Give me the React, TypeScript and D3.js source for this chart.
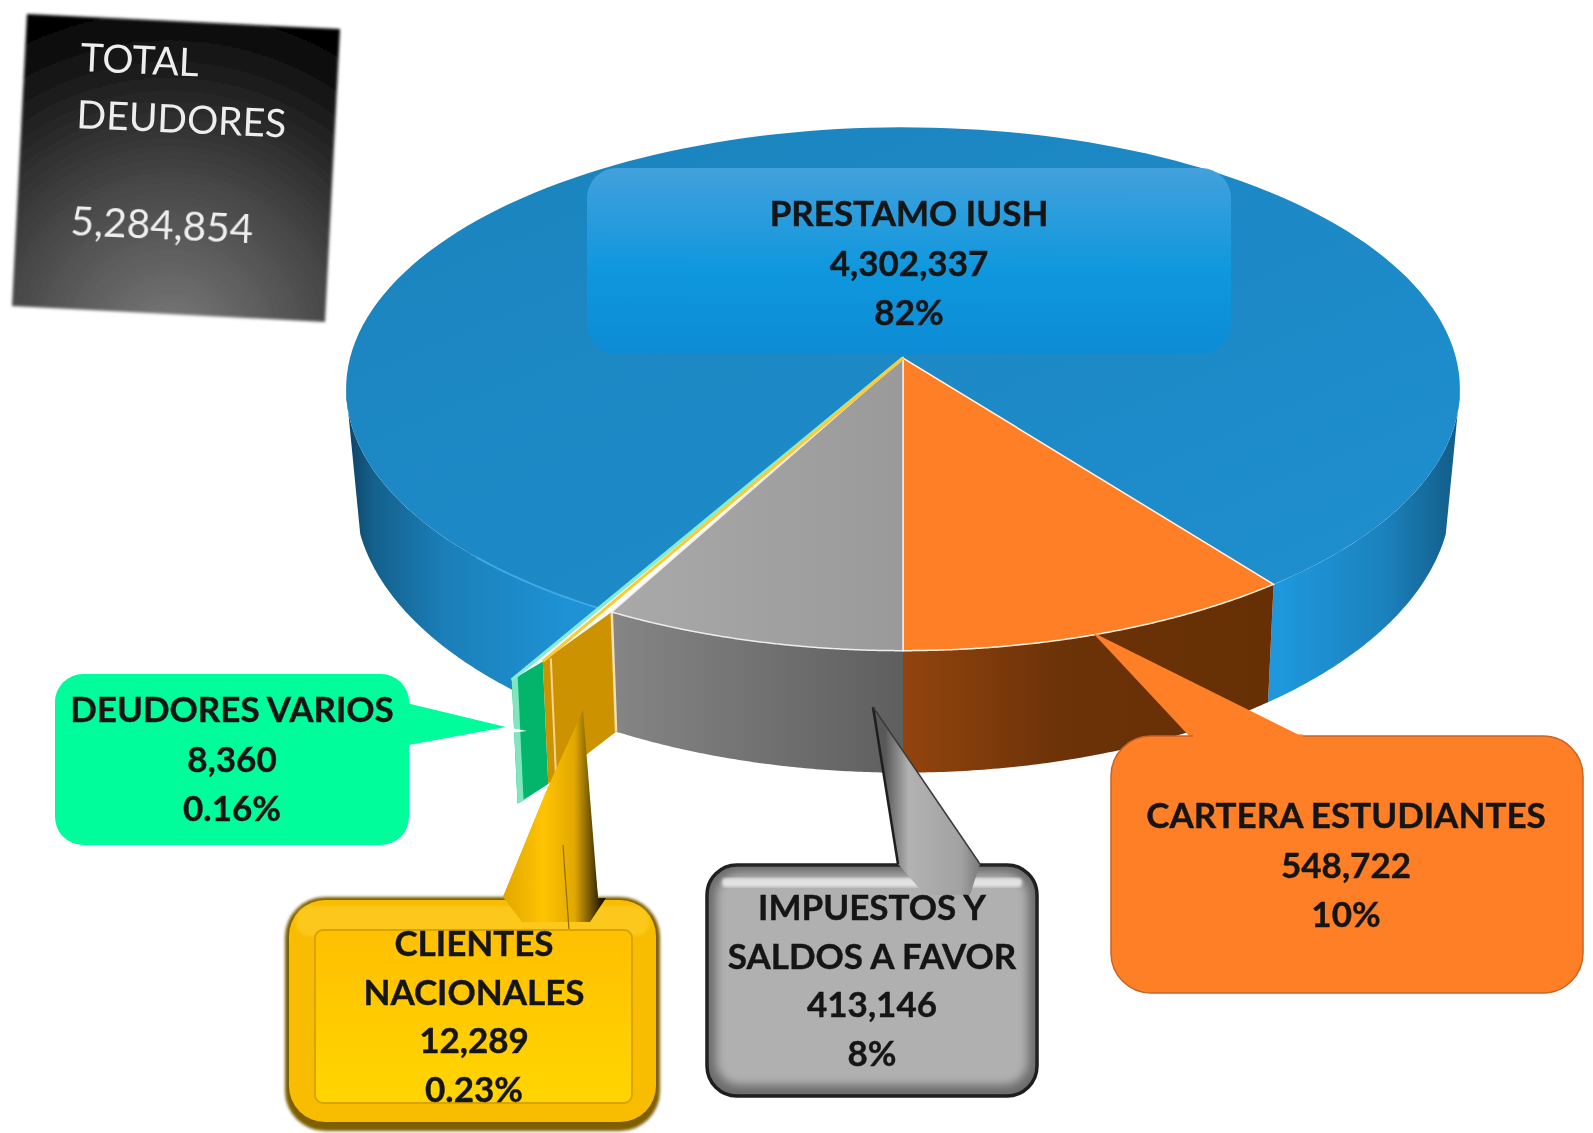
import React from "react";
import * as d3 from "d3";

const categories = ["CARTERA ESTUDIANTES", "PRESTAMO IUSH", "DEUDORES VARIOS", "CLIENTES NACIONALES", "IMPUESTOS Y SALDOS A FAVOR"];
const values = [548722, 4302337, 8360, 12289, 413146];
const percents = ["10%", "82%", "0.16%", "0.23%", "8%"];
const totalValue = 5284854;

const W = 1593, H = 1133;
const cx = 903, apexY = 358, A = 553, B = 258, K = 0.1184;
const FONT = "Lato, Carlito, 'Open Sans', sans-serif";

type Pt = [number, number];
const project = (a: number, r = 1): Pt => {
  const u = r * Math.sin(a), v = r * Math.cos(a), d = 1 - K * v;
  return [cx + (A * u) / d, apexY + (B * v) / d];
};
const lower = (a: number, r = 1): Pt => {
  const p = project(a, r);
  return [cx + (p[0] - cx) * 0.985, p[1] + 102 + 20 * r * Math.cos(a)];
};
const deg = (x: number) => (x * Math.PI) / 180;
const sweep = (a0: number, a1: number, n = 80) => d3.range(n + 1).map((i) => a0 + ((a1 - a0) * i) / n);
const line = d3.line<Pt>().x((d) => d[0]).y((d) => d[1]);
const poly = (pts: Pt[]) => line(pts) + "Z";

const slices = d3.pie<number>().value((d) => d).sort(null).startAngle(0).endAngle(2 * Math.PI)(values);
const [sOrange, sBlue, sGreen, sYellow, sGray] = slices;

const face = (a0: number, a1: number) => poly([[cx, apexY], ...sweep(a0, a1, 160).map((a) => project(a))]);
const wall = (a0: number, a1: number) => {
  const ang = sweep(a0, a1);
  return poly([...ang.map((a) => project(a)), ...ang.slice().reverse().map((a) => lower(a))]);
};
const R_GREEN = 1.25, R_YELLOW = 1.18;

const blueRightWall = () => {
  const top = sweep(sBlue.startAngle, deg(83)).map((a) => project(a));
  const bot = sweep(sBlue.startAngle, deg(75)).map((a) => lower(a));
  return poly([...top, ...bot.reverse()]);
};
const blueLeftWall = () => {
  const top = sweep(deg(277), sBlue.endAngle).map((a) => project(a));
  const bot = sweep(deg(285), deg(320)).map((a) => lower(a));
  return poly([...top, project(sBlue.endAngle, R_GREEN), ...bot.reverse()]);
};
const gP = project(sGreen.startAngle, R_GREEN);
const gQ = project(sGreen.endAngle, R_YELLOW);
const yR = project(sYellow.endAngle, 1);
const gPb = lower(sGreen.startAngle, R_GREEN);
const gQb = lower(sGreen.endAngle, R_YELLOW);
const yRb = lower(sYellow.endAngle, 1);
const greenQuad = poly([gP, gQ, gQb, gPb]);
const greenStripe = poly([gP, [gP[0] + 6, gP[1] - 3], [gPb[0] + 6, gPb[1] - 3], gPb]);
const yellowQuad = poly([gQ, yR, yRb, gQb]);

const fmt = d3.format(",");

function Lines({ x, y, step, lines, size = 35 }: { x: number; y: number; step: number; lines: string[]; size?: number }) {
  return (
    <text textAnchor="middle" fontFamily={FONT} fontWeight={700} fontSize={size} fill="#151515" stroke="#151515" strokeWidth={0.4}>
      {lines.map((l, i) => (
        <tspan key={i} x={x} y={y + i * step}>{l}</tspan>
      ))}
    </text>
  );
}

export default function App() {
  return (
    <svg width={W} height={H} viewBox={`0 0 ${W} ${H}`} style={{ position: "absolute", left: 0, top: 0, background: "#fff" }} xmlns="http://www.w3.org/2000/svg">
      <defs>
        <radialGradient id="totalG" gradientUnits="userSpaceOnUse" cx="170" cy="345" r="345">
          <stop offset="0" stopColor="#7c7c7c" />
          <stop offset="0.45" stopColor="#4a4a4a" />
          <stop offset="0.8" stopColor="#1c1c1c" />
          <stop offset="1" stopColor="#020202" />
        </radialGradient>
        <filter id="soft" x="-5%" y="-5%" width="110%" height="110%"><feGaussianBlur stdDeviation="1.4" /></filter>
        <filter id="softT" x="-5%" y="-5%" width="110%" height="110%"><feGaussianBlur stdDeviation="0.6" /></filter>
        <filter id="softB" x="-10%" y="-10%" width="120%" height="120%"><feGaussianBlur stdDeviation="5" /></filter>
        <linearGradient id="blueTop" x1="0" x2="1" y1="0" y2="1">
          <stop offset="0" stopColor="#1a83bd" />
          <stop offset="1" stopColor="#1f8fcf" />
        </linearGradient>
        <linearGradient id="blueWall" gradientUnits="userSpaceOnUse" x1={345} x2={1462} y1={0} y2={0}>
          <stop offset="0" stopColor="#0c3f60" />
          <stop offset="0.025" stopColor="#14608c" />
          <stop offset="0.09" stopColor="#1b7fb9" />
          <stop offset="0.2" stopColor="#1e92d4" />
          <stop offset="0.84" stopColor="#1e97dc" />
          <stop offset="0.93" stopColor="#1b82bd" />
          <stop offset="1" stopColor="#125a85" />
        </linearGradient>
        <linearGradient id="orangeWall" gradientUnits="userSpaceOnUse" x1={900} x2={1267} y1={0} y2={0}>
          <stop offset="0" stopColor="#93440e" />
          <stop offset="0.45" stopColor="#6c3208" />
          <stop offset="1" stopColor="#662f04" />
        </linearGradient>
        <linearGradient id="grayWall" gradientUnits="userSpaceOnUse" x1={613} x2={900} y1={0} y2={0}>
          <stop offset="0" stopColor="#858585" />
          <stop offset="1" stopColor="#5f5f5f" />
        </linearGradient>
        <linearGradient id="grayTop" gradientUnits="userSpaceOnUse" x1={613} x2={900} y1={0} y2={0}>
          <stop offset="0" stopColor="#a9a9a9" />
          <stop offset="1" stopColor="#9a9a9a" />
        </linearGradient>
        <linearGradient id="labelBlue" x1="0" x2="0" y1="0" y2="1">
          <stop offset="0" stopColor="#46a3de" />
          <stop offset="0.55" stopColor="#0d99e0" />
          <stop offset="1" stopColor="#0b8cd6" />
        </linearGradient>
        <linearGradient id="yBody" x1="0" x2="0" y1="0" y2="1">
          <stop offset="0" stopColor="#ffc000" />
          <stop offset="1" stopColor="#ffd500" />
        </linearGradient>
        <linearGradient id="yTail" gradientUnits="userSpaceOnUse" x1={505} x2={602} y1={0} y2={0}>
          <stop offset="0" stopColor="#e2a800" />
          <stop offset="0.4" stopColor="#ffc400" />
          <stop offset="0.72" stopColor="#e0a800" />
          <stop offset="1" stopColor="#1f1700" />
        </linearGradient>
        <linearGradient id="grayTail" gradientUnits="userSpaceOnUse" x1={885} x2={980} y1={0} y2={0}>
          <stop offset="0" stopColor="#585858" />
          <stop offset="0.25" stopColor="#b2b2b2" />
          <stop offset="0.8" stopColor="#a2a2a2" />
          <stop offset="1" stopColor="#7a7a7a" />
        </linearGradient>
      </defs>

      {/* total box */}
      <g filter="url(#soft)">
        <polygon points="27,14 340,29 325,322 12,306" fill="url(#totalG)" />
      </g>
      <g filter="url(#softT)" fill="#eee" fontFamily={FONT}>
        <text x={80} y={71} fontSize={39} transform="rotate(2.6 80 71)">TOTAL</text>
        <text x={76} y={128} fontSize={39} transform="rotate(2.6 76 128)">DEUDORES</text>
        <text x={70} y={235} fontSize={40.5} transform="rotate(2.6 70 235)">{fmt(totalValue)}</text>
      </g>

      {/* pie walls */}
      <path d={blueRightWall()} fill="url(#blueWall)" />
      <path d={blueLeftWall()} fill="url(#blueWall)" />
      <path d={wall(sOrange.startAngle, sOrange.endAngle)} fill="url(#orangeWall)" />
      <path d={wall(sGray.startAngle, sGray.endAngle)} fill="url(#grayWall)" />
      <path d={greenQuad} fill="#02b56b" />
      <path d={greenStripe} fill="#7fe6c0" />
      <path d={yellowQuad} fill="#cc9200" />
      <line x1={gQ[0] + 8} y1={gQ[1] - 3} x2={gQb[0] + 8} y2={gQb[1] - 3} stroke="#f3d68c" strokeWidth={2} />
      <line x1={yR[0]} y1={yR[1]} x2={yRb[0]} y2={yRb[1]} stroke="#f3dfae" strokeWidth={2.5} />

      {/* pie top */}
      <path d={face(sBlue.startAngle, sBlue.endAngle)} fill="url(#blueTop)" />
      <path d={line(sweep(deg(315), sBlue.endAngle, 30).map((a) => project(a)))!} fill="none" stroke="#45ade8" strokeWidth={2} opacity={0.8} />
      <path d={face(sOrange.startAngle, sOrange.endAngle)} fill="#ff7f27" stroke="#fff3e6" strokeWidth={1.5} />
      <path d={face(sGray.startAngle, sGray.endAngle)} fill="url(#grayTop)" stroke="#eeeeee" strokeWidth={1.5} />
      <line x1={cx} y1={apexY} x2={gP[0]} y2={gP[1]} stroke="#86ecd0" strokeWidth={3.5} />
      <line x1={cx} y1={apexY} x2={gQ[0]} y2={gQ[1]} stroke="#ffc933" strokeWidth={3} />

      {/* label on pie */}
      <rect x={587} y={168} width={644} height={186} rx={30} fill="url(#labelBlue)" opacity={0.92} />
      <Lines x={909} y={226} step={49.5} lines={[categories[1], fmt(values[1]), percents[1]]} />

      {/* green callout */}
      <path d="M398,701 L506,727 L398,747 Z" fill="#00fd9b" />
      <path d="M506,727 L527,731 L508,733 Z" fill="#fff" />
      <rect x={55} y={674} width={354} height={171} rx={28} fill="#00fd9b" />
      <Lines x={232} y={722} step={49.5} lines={[categories[2], fmt(values[2]), percents[2]]} />

      {/* yellow callout */}
      <path d="M583,710 L548,787 L503,897 L530,930 L590,930 L606,900 L598,898 Z" fill="url(#yTail)" />
      <rect x={285} y={897} width={375} height={234} rx={40} fill="#7d5e00" filter="url(#soft)" />
      <rect x={289} y={900} width={367} height={222} rx={36} fill="#f8bd00" />
      <rect x={296} y={906} width={353} height={30} rx={14} fill="#ffd233" opacity={0.55} filter="url(#soft)" />
      <path d="M503,897 L522,922 L590,922 L606,898 L598,898 L583,760 L548,787 Z" fill="url(#yTail)" />
      <path d="M563,845 L569,930" stroke="#8f6c00" strokeWidth={1.2} fill="none" />
      <rect x={315} y={930} width={317} height={173} rx={8} fill="url(#yBody)" stroke="#d9a400" strokeWidth={2} />
      <Lines x={474} y={956} step={48.5} lines={["CLIENTES", "NACIONALES", fmt(values[3]), percents[3]]} />

      {/* gray callout */}
      <rect x={707} y={865} width={330} height={231} rx={30} fill="#6c6c6c" stroke="#1e1e1e" strokeWidth={3.5} />
      <rect x={716} y={873} width={312} height={212} rx={24} fill="#b0b0b0" filter="url(#softB)" />
      <rect x={722} y={878} width={300} height={9} rx={4} fill="#e2e2e2" filter="url(#soft)" />
      <path d="M873,707 L898,864 L925,895 L970,895 L980,864 Z" fill="url(#grayTail)" />
      <path d="M873,707 L898,864" stroke="#1e1e1e" strokeWidth={2.5} fill="none" />
      <path d="M873,707 L980,864" stroke="#3a3a3a" strokeWidth={1.5} fill="none" />
      <Lines x={872} y={920} step={48.5} lines={["IMPUESTOS Y", "SALDOS A FAVOR", fmt(values[4]), percents[4]]} />

      {/* orange callout */}
      <path d="M1092,632 L1191,738 L1305,738 Z" fill="#ff7f27" />
      <rect x={1111} y={736} width={472} height={257} rx={40} fill="#ff7f27" stroke="#c8642a" strokeWidth={1.5} />
      <path d="M1193,736 L1303,736" stroke="#ff7f27" strokeWidth={3} />
      <Lines x={1346} y={828} step={49.5} lines={[categories[0], fmt(values[0]), percents[0]]} />
    </svg>
  );
}
